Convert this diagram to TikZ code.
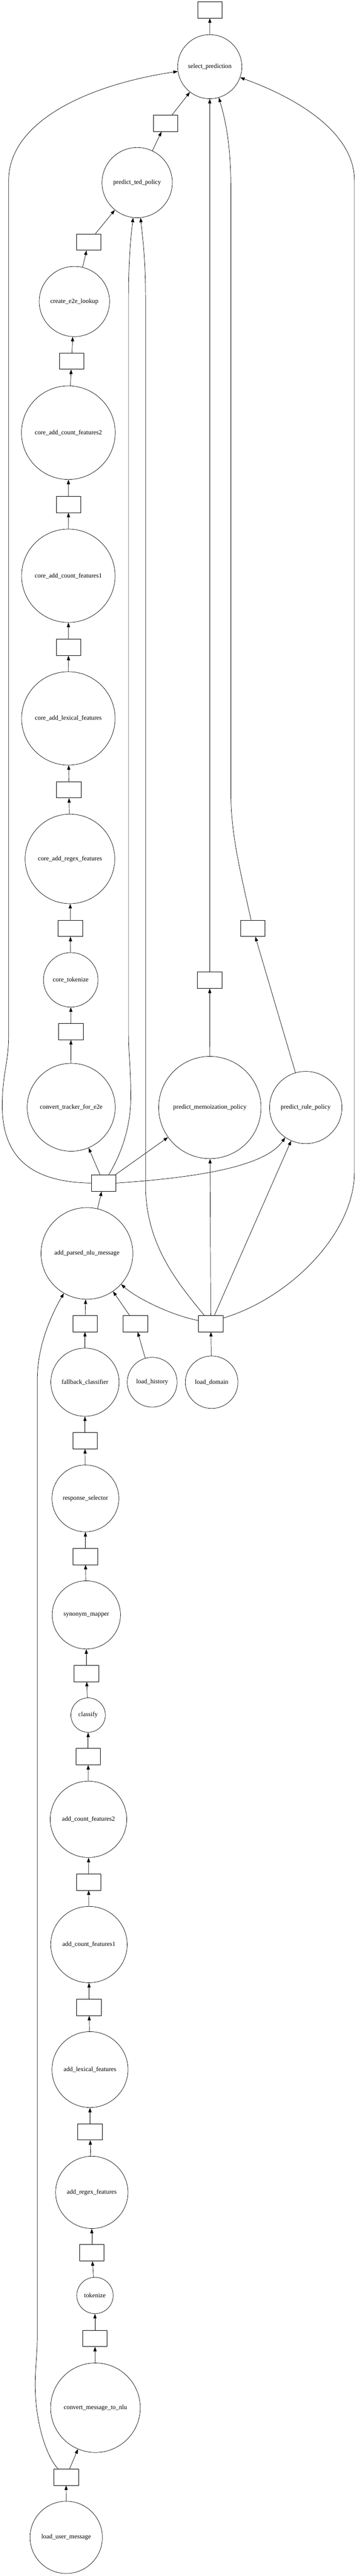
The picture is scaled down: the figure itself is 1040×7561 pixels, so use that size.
\documentclass[tikz,border=0pt]{standalone}
\usepackage{fontspec}
\setmainfont{Liberation Serif}
\usetikzlibrary{arrows.meta}

\begin{document}
\begin{tikzpicture}[x=0.75pt, y=-0.75pt, line width=0.8pt, >={Triangle[length=10pt,width=7pt]}]
        \tikzstyle{task}=[circle, draw, inner sep=0pt, font=\fontsize{14}{16}\selectfont]
        \tikzstyle{data}=[rectangle, draw, minimum width=54pt, minimum height=36pt, inner sep=0pt]
        \tikzstyle{link}=[->]

        \useasboundingbox (0,0) rectangle (1040,7561);

% The prediction part of the graph (tracker side).

        \node[data] (bsel) at (615,29) {};
        \node[task, minimum size=141pt] (selpred) at (614.7,195.7) {select\_prediction};
        \node[data] (bted) at (485,362) {};
        \node[task, minimum size=154.5pt] (tedpol) at (402,536) {predict\_ted\_policy};
        \node[data] (be2e) at (259.7,710.5) {};
        \node[task, minimum size=154.5pt] (e2elook) at (218,885) {create\_e2e\_lookup};
        \node[data] (bcc2) at (209.7,1060) {};
        \node[task, minimum size=206pt] (ccount2) at (200.3,1270) {core\_add\_count\_features2};
        \node[data] (bcc1) at (200.7,1480.5) {};
        \node[task, minimum size=205.5pt] (ccount1) at (200.3,1690) {core\_add\_count\_features1};
        \node[data] (bclex) at (200.7,1900) {};
        \node[task, minimum size=205.5pt] (clex) at (200.3,2108.6) {core\_add\_lexical\_features};
        \node[data] (bcreg) at (202,2318) {};
        \node[task, minimum size=197pt] (cregex) at (205,2521) {core\_add\_regex\_features};
        \node[data] (bctok) at (206.3,2724.7) {};
        \node[task, minimum size=120pt] (ctok) at (207.3,2876) {core\_tokenize};
        \node[data] (bconv) at (207.7,3028) {};
        \node[task, minimum size=193.5pt] (convtr) at (208.7,3250) {convert\_tracker\_for\_e2e};
        \node[data] (bmemo) at (614.7,2877) {};
        \node[task, minimum size=225pt] (memo) at (615,3250.7) {predict\_memoization\_policy};
        \node[data] (brule) at (741,2724.7) {};
        \node[task, minimum size=159pt] (rule) at (896,3250.7) {predict\_rule\_policy};
        \node[data] (btrack) at (303.7,3472.5) {};
        \node[task, minimum size=201.75pt] (parsed) at (254.7,3679) {add\_parsed\_nlu\_message};

% The message part of the graph (NLU side).

        \node[data] (bfall) at (249,3885) {};
        \node[data] (bhist) at (396.3,3885) {};
        \node[data] (bdom) at (617.7,3885) {};
        \node[task, minimum size=150pt] (fallback) at (249,4057) {fallback\_classifier};
        \node[task, minimum size=109.5pt] (history) at (446,4057) {load\_history};
        \node[task, minimum size=115.5pt] (domain) at (620.3,4057) {load\_domain};
        \node[data] (bresp) at (249,4228.5) {};
        \node[task, minimum size=147pt] (respsel) at (250.3,4398) {response\_selector};
        \node[data] (bsyn) at (250.3,4568.4) {};
        \node[task, minimum size=150pt] (synmap) at (253,4740) {synonym\_mapper};
        \node[data] (bcls) at (253,4911.6) {};
        \node[task, minimum size=75.75pt] (classify) at (258.3,5034) {classify};
        \node[data] (bc2) at (258.3,5156) {};
        \node[task, minimum size=168pt] (count2) at (259.3,5340) {add\_count\_features2};
        \node[data] (bc1) at (259.7,5524) {};
        \node[task, minimum size=168pt] (count1) at (260.7,5707.6) {add\_count\_features1};
        \node[data] (blex) at (261,5892) {};
        \node[task, minimum size=167pt] (lex) at (263.7,6074.5) {add\_lexical\_features};
        \node[data] (breg) at (263.7,6257) {};
        \node[task, minimum size=159pt] (regex) at (269,6435) {add\_regex\_features};
        \node[data] (btok) at (269,6612.3) {};
        \node[task, minimum size=80pt] (tok) at (278.3,6737.5) {tokenize};
        \node[data] (bcmn) at (278.3,6863.5) {};
        \node[task, minimum size=197pt] (convmsg) at (279.7,7067) {convert\_message\_to\_nlu};
        \node[data] (buser) at (193.7,7270.7) {};
        \node[task, minimum size=159pt] (usermsg) at (194,7447.5) {load\_user\_message};

% Straight edges.

        \foreach \a/\b in {usermsg/buser, buser/convmsg, convmsg/bcmn, bcmn/tok, tok/btok, btok/regex,
                regex/breg, breg/lex, lex/blex, blex/count1, count1/bc1, bc1/count2, count2/bc2,
                bc2/classify, classify/bcls, bcls/synmap, synmap/bsyn, bsyn/respsel, respsel/bresp,
                bresp/fallback, fallback/bfall, bfall/parsed, history/bhist, bhist/parsed,
                domain/bdom, bdom/memo, bdom/rule, parsed/btrack, btrack/convtr, btrack/memo,
                convtr/bconv, bconv/ctok, ctok/bctok, bctok/cregex, cregex/bcreg, bcreg/clex,
                clex/bclex, bclex/ccount1, ccount1/bcc1, bcc1/ccount2, ccount2/bcc2, bcc2/e2elook,
                e2elook/be2e, be2e/tedpol, tedpol/bted, bted/selpred, selpred/bsel,
                memo/bmemo, bmemo/selpred, rule/brule}
                \draw[link] (\a) -- (\b);

% Curved edges.

        \draw[link] (buser) .. controls (140,7215) and (103.3,7120) .. (103.3,7000)
                .. controls (103.3,6940) and (109.3,6920) .. (109.3,6850) -- (109.3,4050)
                .. controls (109.3,3950) and (150,3860) .. (parsed);
        \draw[link] (bdom.166) .. controls (500,3860) and (400,3810) .. (parsed);
        \draw[link] (bdom) .. controls (530,3775) and (426.7,3660) .. (426.7,3480) -- (426.7,880)
                .. controls (426.7,760) and (418,700) .. (tedpol);
        \draw[link] (bdom.24) .. controls (850,3810) and (1038.7,3620) .. (1038.7,3440) -- (1038.7,530)
                .. controls (1038.7,380) and (850,280) .. (selpred);
        \draw[link] (btrack.east) .. controls (600,3455) and (780,3420) .. (rule);
        \draw[link] (btrack) .. controls (360,3380) and (383.3,3300) .. (383.3,3220)
                .. controls (383.3,3130) and (376.7,3100) .. (376.7,3030) -- (376.7,880)
                .. controls (376.7,760) and (383,700) .. (tedpol);
        \draw[link] (btrack.west) .. controls (120,3470) and (6.7,3420) .. (6.7,3246)
                .. controls (6.7,3150) and (25.3,3120) .. (25.3,3040) -- (25.3,530)
                .. controls (25.3,360) and (250,250) .. (selpred);
        \draw[link] (brule) .. controls (705,2560) and (676.7,2450) .. (676.7,2330) -- (676.7,560)
                .. controls (676.7,420) and (660,350) .. (selpred);

\end{tikzpicture}
\end{document}
